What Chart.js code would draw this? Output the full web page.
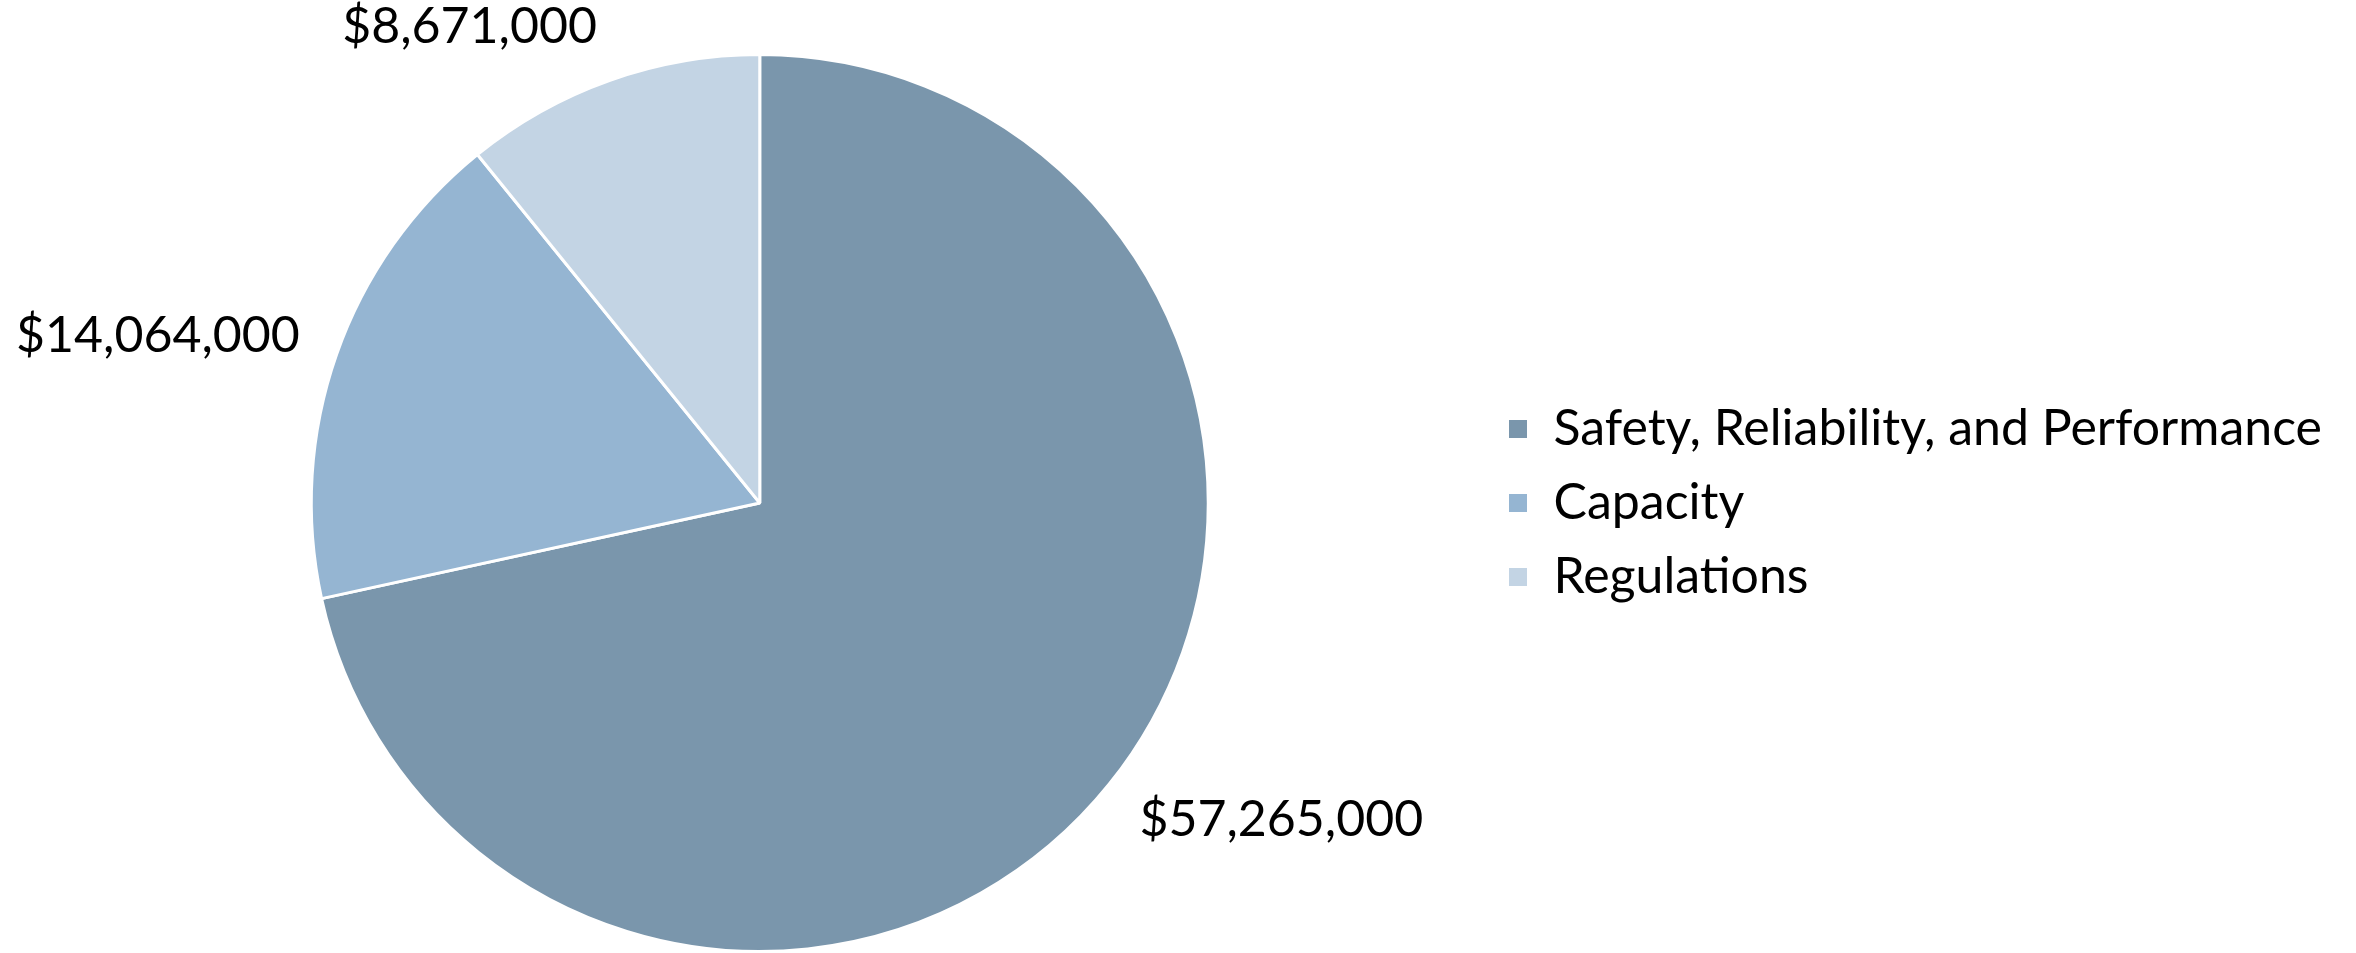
<!DOCTYPE html>
<html>
<head>
<meta charset="utf-8">
<script src="https://cdn.jsdelivr.net/npm/chart.js@4"></script>
<style>
  html, body { margin: 0; padding: 0; background: #fff; }
  #wrap { width: 2356px; height: 953px; position: relative; }
</style>
</head>
<body>
<div id="wrap"><canvas id="budgetPie"></canvas></div>
<script>
// Program categories and their funding
const categories = ['Safety, Reliability, and Performance', 'Capacity', 'Regulations'];
const amounts = [57265000, 14064000, 8671000];
const sliceColors = ['#7a96ac', '#95b5d2', '#c3d4e4'];

const FONT = 'Lato, "Open Sans", sans-serif';

// Dollar labels just outside each slice, pushed away from the pie edge
const outsideLabels = {
    id: 'outsideLabels',
    afterDatasetsDraw(chart) {
        const ctx = chart.ctx;
        const meta = chart.getDatasetMeta(0);
        ctx.save();
        ctx.font = '50px ' + FONT;
        ctx.fillStyle = '#000';
        ctx.textBaseline = 'middle';
        meta.data.forEach((arc, i) => {
            const p = arc.getProps(['x', 'y', 'startAngle', 'endAngle', 'outerRadius'], true);
            const mid = (p.startAngle + p.endAngle) / 2;
            const dx = Math.cos(mid);
            const dy = Math.sin(mid);
            const r = p.outerRadius + 39;
            const tx = p.x + dx * r;
            const ty = p.y + dy * r + dy * 18;
            ctx.textAlign = dx < 0 ? 'right' : 'left';
            ctx.fillText('$' + amounts[i].toLocaleString('en-US'), tx, ty);
        });
        ctx.restore();
    }
};

new Chart(document.getElementById('budgetPie'), {
    type: 'pie',
    data: {
        labels: categories,
        datasets: [{
            data: amounts,
            backgroundColor: sliceColors,
            borderColor: '#fff',
            borderWidth: 3
        }]
    },
    options: {
        responsive: true,
        maintainAspectRatio: false,
        animation: false,
        layout: { padding: { top: 53, bottom: 0, left: 36, right: 24 } },
        plugins: {
            legend: {
                position: 'right',
                labels: {
                    color: '#000',
                    font: { family: FONT, size: 50 },
                    boxWidth: 21,
                    boxHeight: 21,
                    padding: 24
                }
            },
            tooltip: { enabled: false }
        }
    },
    plugins: [outsideLabels]
});
</script>
</body>
</html>
